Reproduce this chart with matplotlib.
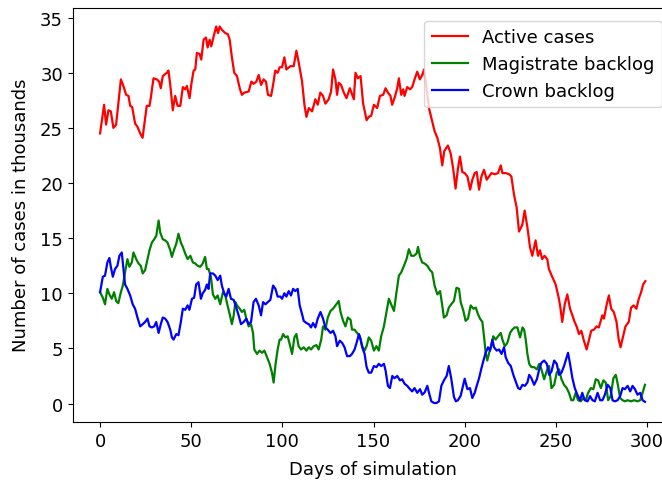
import numpy as np
import matplotlib
matplotlib.use('Agg')
import matplotlib.pyplot as plt


# Active cases (thousands)
active_days = [0, 2.2, 3.3, 4.6, 5.9, 7.3, 8.8, 11.4, 12.8, 14.3, 15.6, 16.5, 17.6, 19.2, 20.5, 22, 23.3,
               24.7, 25.6, 27.1, 27.8, 29.3, 31.1, 32.4, 33.3, 34.4, 36.6, 37.5, 38.5, 39.9, 41.2, 42.5,
               44, 45.4, 46.7, 47.6, 49.1, 50, 51.3, 52.2, 53.1, 54.6, 55.5, 56.8, 58.1, 59, 60.1, 61,
               62.3, 63.7, 64.7, 65.6, 66.8, 68.7, 70.1, 71.1, 72.3, 73.6, 75.1, 76.6, 77.8, 79.1, 81.5,
               83, 84.2, 85.7, 87, 88.3, 89.7, 91, 92.1, 93.8, 94.9, 96.1, 97.4, 98.5, 99.8, 101.1,
               102.2, 104.4, 106.2, 107.7, 109, 110.8, 112.1, 113.2, 114.5, 116.3, 118.1, 119.4, 120.8,
               122.3, 123.6, 125.4, 126.7, 127.8, 129.1, 130, 130.9, 132.2, 133.7, 135.2, 137, 138.3,
               139.2, 140.1, 141.4, 142.9, 144.3, 146.2, 147.4, 148.7, 150.2, 152, 153.5, 155.3, 156.6,
               157.9, 159.3, 160.2, 161.5, 163, 163.9, 165.2, 166.3, 167, 168.5, 170, 171.2, 172.5, 174,
               175.4, 176.7, 177.7, 179.1, 180.4, 182.2, 183.5, 185, 186.4, 187.7, 188.8, 190.8, 192.3,
               193.7, 195, 196.3, 197.4, 198.7, 200, 201.5, 203, 204.2, 205.5, 206.6, 207.9, 209.2,
               210.6, 212.1, 213.4, 214.7, 216.5, 218.3, 219.8, 220.7, 222.5, 224.4, 225.6, 227.1,
               228.5, 229.8, 231.6, 232.9, 234.4, 235.8, 237.1, 238.9, 240.2, 241.3, 242.5, 243.8,
               245.3, 246.2, 248, 249.9, 251.7, 252.6, 253.5, 254.9, 256.3, 257.8, 259.1, 260.3, 261.4,
               262.7, 264, 265.4, 266.9, 268.2, 269.4, 270.9, 272.4, 273.6, 275.5, 276.4, 277.8, 279.1,
               280.4, 281.8, 283.3, 284.5, 285.5, 286.9, 288.2, 290, 291.3, 292.7, 294.2, 295.5, 296.8,
               297.9, 299.1]
active_vals = [24.5, 27.1, 25.3, 26.6, 26.5, 25.0, 25.3, 29.4, 28.8, 28.0, 27.9, 27.0, 26.9, 25.4, 25.1,
               24.5, 24.1, 25.9, 27.0, 27.0, 27.7, 29.5, 29.4, 29.2, 28.6, 29.7, 30.0, 30.2, 28.9, 26.6,
               27.9, 27.0, 27.0, 28.7, 28.5, 28.8, 27.7, 28.9, 30.2, 30.3, 31.8, 31.7, 31.2, 33.0, 33.2,
               32.3, 33.0, 32.4, 33.3, 34.2, 33.6, 34.2, 33.9, 33.6, 33.5, 33.0, 31.4, 30.0, 29.7, 28.6,
               28.0, 28.2, 28.3, 29.2, 29.0, 29.2, 29.8, 28.9, 29.4, 29.2, 28.0, 27.9, 28.9, 30.2, 30.0,
               30.5, 30.5, 31.4, 30.3, 30.6, 30.6, 32.0, 30.9, 29.2, 27.1, 26.0, 26.8, 26.5, 27.6, 27.1,
               28.2, 27.9, 27.2, 27.6, 28.3, 30.3, 29.4, 28.0, 29.1, 28.9, 28.2, 27.7, 28.6, 28.0, 27.6,
               30.0, 29.5, 29.7, 27.2, 25.7, 26.0, 26.1, 27.1, 26.8, 27.9, 28.0, 28.6, 28.2, 27.9, 27.1,
               27.7, 28.6, 29.5, 28.0, 28.5, 27.9, 28.7, 28.5, 28.7, 29.4, 30.1, 29.4, 29.8, 30.3, 28.6,
               26.8, 25.6, 24.7, 24.1, 23.2, 21.6, 22.9, 23.4, 22.7, 21.3, 19.5, 21.3, 22.4, 21.0, 20.9,
               20.6, 19.4, 20.3, 20.9, 21.0, 19.4, 20.6, 21.2, 20.3, 20.6, 20.9, 20.8, 20.9, 21.6, 20.9,
               20.9, 20.8, 20.6, 18.9, 17.8, 15.6, 16.2, 17.5, 16.0, 14.2, 13.4, 14.8, 13.4, 13.9, 13.1,
               13.4, 13.1, 12.2, 11.5, 10.8, 9.5, 8.6, 7.4, 9.0, 9.9, 8.6, 8.0, 7.4, 7.0, 6.3, 6.6, 5.7,
               4.9, 5.8, 6.6, 6.7, 7.0, 6.9, 8.0, 7.7, 8.9, 9.8, 8.6, 8.3, 7.4, 5.8, 5.1, 6.1, 7.0, 7.4,
               8.7, 8.9, 8.6, 9.5, 10.1, 10.8, 11.1]

# Magistrate backlog (thousands)
mag_days = [0, 1.5, 2.7, 4.0, 5.1, 6.4, 7.7, 8.8, 10, 11.4, 12.5, 13.7, 15, 16.1, 17.4, 18.3, 19.8, 21.1,
            22.3, 23.4, 24.7, 26, 27.1, 28.4, 29.7, 30.8, 32.1, 33, 34.4, 35.7, 37, 38.5, 39.4, 40.7,
            41.8, 43, 44.3, 45.4, 46.7, 48, 49.5, 50.9, 52.2, 53.5, 54.9, 56.3, 57.6, 58.6, 59.5, 60.8,
            61.9, 63.2, 64.5, 65.9, 67.4, 68.7, 69.9, 71.1, 72.3, 73.3, 74.2, 75.1, 76.6, 77.8, 79.1,
            80.2, 81.5, 82.8, 83.9, 84.6, 86.1, 87.5, 88.8, 90.1, 91.6, 93, 94.3, 95.2, 96.2, 97.4, 98.5,
            99.3, 100.4, 101.6, 102.9, 104, 105.3, 106.6, 107.7, 108.9, 110.2, 111.7, 113.2, 114.5,
            115.7, 117.2, 118.7, 119.9, 121.3, 122.3, 123.6, 124.9, 126.4, 127.8, 129.1, 130.9, 131.9,
            133.3, 134.6, 135.9, 137.4, 138.2, 139.6, 141, 142.5, 143.8, 145.1, 146.2, 147.4, 148.7,
            150.2, 151.6, 152.9, 154.2, 155.7, 157.1, 158.4, 159.7, 161.2, 162.6, 163.9, 165.2, 166.7,
            168.1, 169.4, 170.7, 172.2, 173.6, 174.4, 175.5, 176.7, 178, 179.5, 181, 182.2, 183.5, 185,
            186.5, 187.7, 188.6, 190.1, 191.3, 192.6, 194.1, 195.5, 196.9, 197.8, 199.3, 200.5, 201.8,
            203.3, 204.8, 206.1, 207.3, 208.4, 209.7, 210.6, 211.5, 212.4, 213.4, 214.6, 215.7, 217,
            218.3, 219.8, 220.7, 222, 223.4, 224.9, 226.1, 227.4, 228.9, 230.4, 231.7, 232.6, 233.5,
            234.4, 235.4, 236.6, 238.1, 239.6, 240.9, 242.1, 243.6, 245.1, 246.3, 247.6, 249.1, 250.5,
            251.8, 253.1, 254.5, 256, 257.2, 258.5, 259.6, 260.9, 262.2, 263.7, 265.1, 266.4, 267.7,
            269.2, 270.6, 271.9, 273.2, 274.7, 276.1, 277.4, 278.7, 280.1, 281.6, 282.9, 283.8, 285.3,
            286.6, 287.9, 289.4, 291.2, 293, 294.8, 296.3, 297.6, 298.9]
mag_vals = [10.1, 9.6, 9.0, 10.4, 9.9, 9.5, 10.1, 9.3, 9.1, 10.1, 10.7, 11.9, 13.1, 12.4, 12.8, 13.7, 13.1,
            12.7, 12.5, 11.8, 12.1, 13.1, 13.9, 14.6, 14.9, 15.2, 16.6, 15.5, 14.9, 14.8, 14.6, 13.9,
            13.3, 14.0, 14.5, 15.4, 14.6, 14.2, 13.6, 13.1, 13.4, 12.8, 12.7, 12.5, 12.4, 12.7, 13.3,
            12.2, 12.2, 11.5, 9.9, 9.5, 9.8, 9.0, 10.1, 9.8, 8.9, 8.1, 7.2, 8.0, 9.2, 8.9, 8.6, 8.3, 8.5,
            7.7, 7.0, 7.2, 6.4, 4.9, 4.5, 4.8, 4.6, 4.8, 4.2, 3.6, 2.8, 1.9, 3.5, 4.9, 5.8, 5.8, 6.3, 6.0,
            6.1, 5.4, 4.5, 6.0, 6.3, 5.2, 4.9, 5.1, 4.8, 5.1, 4.9, 5.2, 5.3, 4.9, 5.8, 7.0, 6.7, 7.8,
            8.4, 8.6, 8.9, 9.3, 8.3, 7.5, 7.0, 7.8, 7.6, 6.7, 6.7, 6.4, 6.1, 5.2, 4.8, 5.2, 6.0, 5.7,
            4.8, 5.2, 4.8, 6.1, 7.0, 8.3, 9.5, 9.0, 8.4, 10.1, 11.6, 11.9, 12.5, 13.1, 14.0, 13.4, 13.4,
            13.6, 14.2, 13.3, 12.8, 12.7, 12.5, 12.1, 11.9, 10.7, 9.9, 10.2, 8.9, 7.8, 8.0, 8.7, 9.0,
            9.3, 10.5, 10.4, 9.2, 8.4, 7.5, 7.7, 8.9, 8.6, 8.7, 8.1, 7.7, 7.4, 6.1, 4.6, 3.9, 4.6, 5.2,
            6.1, 5.8, 6.1, 6.4, 5.8, 5.2, 5.5, 6.4, 6.7, 6.9, 6.9, 6.0, 6.9, 6.7, 5.8, 4.5, 3.6, 3.3,
            3.3, 3.1, 3.6, 3.1, 2.2, 3.0, 3.4, 1.4, 1.7, 2.8, 3.1, 2.2, 1.7, 1.4, 0.97, 0.3, 0.3, 0.97,
            0.3, 0.2, 0.5, 0.3, 0.97, 1.4, 1.3, 2.2, 2.1, 1.4, 2.1, 1.9, 0.3, 0.67, 2.3, 2.6, 1.9, 0.5,
            0.3, 0.2, 0.3, 0.2, 0.3, 0.2, 0.3, 0.97, 1.7]

# Crown backlog (thousands)
crown_days = [0, 1.5, 2.7, 4.0, 5.1, 5.9, 7, 8.2, 9.5, 10.6, 11.9, 12.8, 13.7, 15, 16.5, 17.9, 19.2,
              20.5, 22, 23.4, 24.7, 26, 27.1, 28.4, 29.7, 30.8, 32.1, 33.3, 34.4, 35.7, 37, 38.5, 39.4,
              40.3, 41.8, 43, 44.3, 45.4, 46.7, 48, 49, 50.4, 51.6, 52.7, 54, 55.3, 56.3, 57.6, 58.6,
              59.5, 60.4, 61.9, 63.2, 64.5, 65.9, 66.8, 68.1, 69.2, 70.5, 71.8, 73.3, 74.7, 76, 77.3,
              78.8, 80.2, 81.5, 82.8, 84.2, 85.5, 87, 88.3, 89.4, 90.7, 92, 93.4, 94.9, 96.2, 97.4, 98.9,
              99.8, 101.1, 102.2, 103.5, 104.7, 105.9, 107.1, 108.4, 109.5, 110.8, 111.7, 113.2, 114.5,
              115.7, 116.8, 118.1, 119.4, 120.9, 122.3, 123.6, 124.9, 126.4, 127.8, 129.1, 130, 131.5,
              132.8, 134.1, 135.5, 137, 138.2, 139.6, 140.7, 142, 142.9, 143.8, 145.1, 146.2, 147.4,
              148.7, 150.2, 151.6, 152.9, 154.2, 155.7, 156.6, 157.9, 159, 160.3, 161.5, 163, 164.5,
              165.7, 167, 168.5, 170, 171.2, 172.5, 174, 175.5, 176.7, 178, 179.5, 180.4, 181.7, 183.2,
              184.6, 185.9, 187.2, 188.6, 190.1, 191.3, 192.6, 194.1, 195.2, 196.3, 197.8, 200, 201.5,
              202.9, 204.2, 205.5, 206.6, 207.9, 209.2, 210.3, 211.5, 212.8, 213.9, 215.2, 216.1, 217.6,
              218.9, 220.2, 221.6, 222.5, 223.8, 225.3, 226.7, 228, 229.3, 230.4, 231.7, 233, 234.4,
              235.4, 236.6, 238.1, 239.6, 240.9, 242.1, 243.6, 245.1, 246.3, 247.6, 249.1, 250.5, 251.8,
              253.1, 254.5, 256, 256.7, 257.8, 259.1, 260.4, 261.8, 263.3, 264.5, 265.8, 267.4, 268.8,
              270.1, 271.4, 272.9, 274.3, 275.6, 276.9, 278.4, 279.9, 281.1, 282.4, 283.9, 285.3, 286.6,
              287.9, 289.4, 290.8, 292.1, 293.4, 294.8, 296.3, 297.6, 298.9]
crown_vals = [10.1, 11.5, 11.6, 12.8, 13.2, 12.4, 11.5, 12.2, 12.5, 13.4, 13.7, 12.2, 10.8, 10.4, 9.8,
              9.0, 8.6, 7.8, 7.0, 7.2, 7.4, 7.7, 7.0, 6.9, 7.0, 7.4, 6.4, 7.2, 7.8, 7.7, 7.4, 6.7, 6.0,
              5.8, 6.3, 6.2, 7.4, 8.6, 8.5, 8.9, 8.5, 9.5, 9.6, 10.8, 11.0, 9.5, 10.0, 10.3, 10.8, 10.4,
              11.8, 11.8, 11.6, 11.2, 11.6, 10.7, 10.0, 9.7, 10.4, 9.5, 9.4, 8.7, 8.0, 7.2, 7.4, 7.7, 7.2,
              7.4, 9.2, 9.5, 8.9, 8.0, 9.2, 9.0, 9.2, 9.4, 10.7, 10.4, 9.7, 9.7, 9.5, 10.0, 9.7, 10.2,
              9.8, 10.4, 10.2, 10.4, 8.9, 8.1, 7.5, 7.3, 7.2, 6.9, 7.3, 6.9, 7.7, 8.3, 7.7, 6.9, 6.7, 6.4,
              6.6, 6.1, 5.2, 5.7, 5.5, 5.1, 4.3, 4.3, 4.5, 4.9, 5.5, 6.3, 5.8, 5.1, 4.5, 3.3, 2.8, 2.8,
              3.4, 3.3, 3.6, 3.4, 3.6, 3.0, 1.6, 1.4, 2.5, 2.3, 2.5, 2.1, 2.2, 1.8, 1.6, 1.3, 1.1, 1.4,
              0.97, 1.3, 0.8, 1.0, 1.6, 1.0, 0.2, 0.05, 0.05, 0.2, 1.6, 2.1, 2.5, 3.4, 2.3, 0.6, 0.2, 0.3,
              0.7, 2.25, 1.3, 1.4, 0.5, 0.97, 1.6, 2.3, 3.2, 3.9, 4.6, 5.1, 4.8, 5.8, 5.1, 4.8, 4.9, 4.5,
              5.1, 4.2, 3.7, 3.4, 2.6, 2.0, 1.4, 1.3, 1.7, 1.6, 1.9, 2.6, 2.3, 1.7, 2.2, 3.1, 3.7, 3.9,
              3.6, 2.6, 2.9, 3.9, 3.6, 2.6, 2.8, 3.4, 4.2, 4.6, 3.6, 2.3, 1.4, 0.8, 0.3, 0.97, 0.3, 0.2,
              0.67, 0.3, 0.2, 0.97, 0.3, 0.3, 0.8, 1.7, 1.4, 0.3, 0.2, 0.3, 0.67, 1.4, 1.3, 1.6, 1.1, 1.6,
              1.3, 0.8, 0.97, 0.3, 0.15]


fig = plt.figure(figsize=(6.62, 4.81), dpi=100)
ax = fig.add_axes([0.110, 0.121, 0.906, 0.861])

ax.plot(active_days, active_vals, color='red', linewidth=1.6, label='Active cases')
ax.plot(mag_days, mag_vals, color='green', linewidth=1.6, label='Magistrate backlog')
ax.plot(crown_days, crown_vals, color='blue', linewidth=1.6, label='Crown backlog')

fs = 13
ax.set_xlabel('Days of simulation', fontsize=fs, labelpad=7.5)
ax.set_ylabel('Number of cases in thousands', fontsize=fs, labelpad=7)
ax.tick_params(labelsize=fs)
ax.set_xticks([0, 50, 100, 150, 200, 250, 300])
ax.set_yticks([0, 5, 10, 15, 20, 25, 30, 35])
ax.legend(loc='upper right', fontsize=fs, bbox_to_anchor=(0.997, 0.99))

fig.savefig('out.png', dpi=100)
plt.close(fig)
